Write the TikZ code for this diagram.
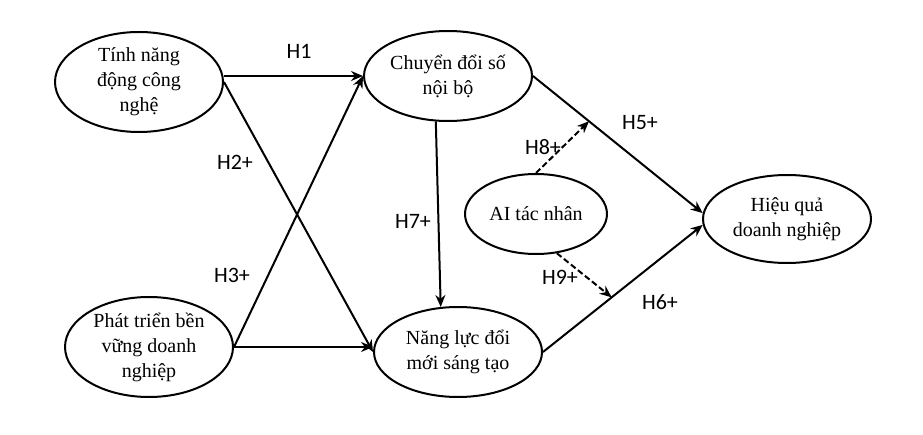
\documentclass[tikz,border=0pt]{standalone}
\usepackage{fontspec}
\setmainfont{Liberation Serif}
\newfontfamily\hfont{Carlito}
\usetikzlibrary{shapes.geometric,arrows.meta}

\tikzset{
    konstrukt/.style={draw, ellipse, inner sep=0pt, align=center,
        minimum width=168pt, minimum height=100pt,
        font=\fontsize{20}{25}\selectfont},
    hlabel/.style={font=\hfont\fontsize{22}{24}\selectfont},
}

\begin{document}
\begin{tikzpicture}[x=1pt, y=-1pt, line width=2pt, >={Stealth[length=12pt, width=10pt]}]
    \useasboundingbox (0,0) rectangle (923,435);

    \node[konstrukt] (tn) at (139,82) {Tính năng\\động công\\nghệ};
    \node[konstrukt, minimum height=90pt] (cd) at (448,76) {Chuyển đổi số\\nội bộ};
    \node[konstrukt] (pt) at (149,347) {Phát triển bền\\vững doanh\\nghiệp};
    \node[konstrukt, minimum height=90pt] (nl) at (458,352) {Năng lực đổi\\mới sáng tạo};
    \node[konstrukt, minimum width=142pt, minimum height=80pt] (ai) at (536,214) {AI tác nhân};
    \node[konstrukt, minimum height=88pt] (hq) at (787,219) {Hiệu quả\\doanh nghiệp};

    \path[->]
    (tn.east |- cd.west) edge (cd.west)
    (tn.east) edge (nl.west)
    (pt.east) edge (cd.west)
    (pt.east) edge (pt.east -| nl.west)
    (cd.255) edge (nl.111);
    \draw[->] (cd.east) -- coordinate[pos=0.33] (m5) (hq.176);
    \draw[->] (nl.east) -- coordinate[pos=0.43] (m6) (hq.184);

    \path[->, dash pattern=on 6pt off 3pt]
    (ai.north) edge (m5)
    (ai.298) edge (m6);

    % nhan gia thuyet
    \node[hlabel] (h1) at (299,51) {H1};
    \node[hlabel] (h2) at (235,162) {H2+};
    \node[hlabel] (h3) at (232,275) {H3+};
    \node[hlabel] (h7) at (413,221) {H7+};
    \node[hlabel] (h5) at (640,123) {H5+};
    \node[hlabel] (h8) at (543,147) {H8+};
    \node[hlabel] (h9) at (560,277) {H9+};
    \node[hlabel] (h6) at (660,302) {H6+};
\end{tikzpicture}
\end{document}
